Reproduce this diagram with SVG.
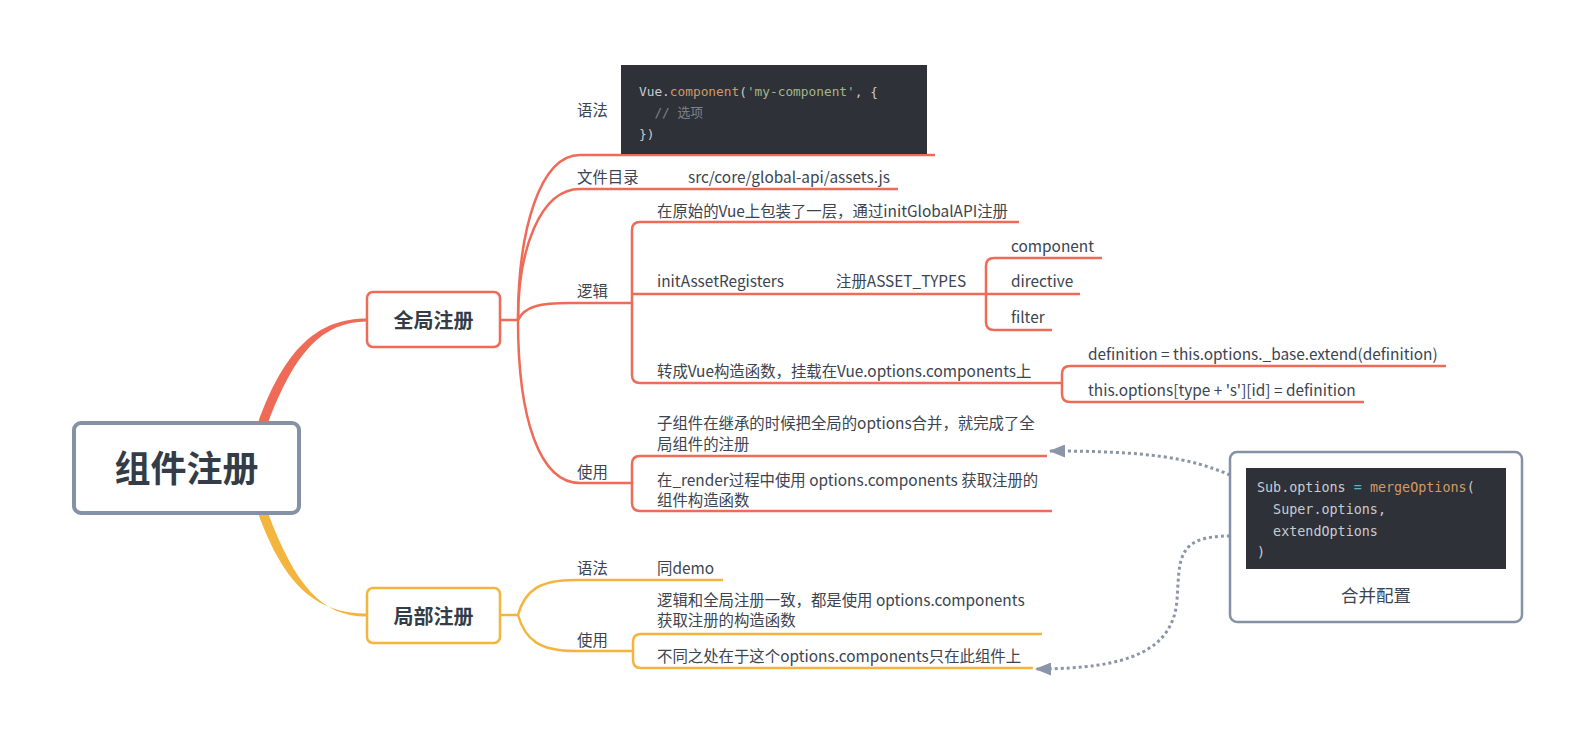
<svg xmlns="http://www.w3.org/2000/svg" width="1583" height="741" viewBox="0 0 1583 741">
<style>
.t{font-family:"Noto Sans CJK SC","Noto Sans",sans-serif;font-size:15.4px;fill:#3b4450}
.title{font-family:"Noto Sans CJK SC","Noto Sans",sans-serif;font-weight:bold;fill:#343d47;text-anchor:middle}
.code{font-family:"DejaVu Sans Mono","Noto Sans CJK SC",monospace;fill:#c8ccd2;white-space:pre}
.red{fill:none;stroke:#ef6b58;stroke-width:2.5}
.yel{fill:none;stroke:#f4b53f;stroke-width:2.5}
.dot{fill:none;stroke:#8a95a8;stroke-width:3;stroke-dasharray:3 3}
.or{fill:#d19a66}.gr{fill:#a3b78a}.cm{fill:#7f848e}.tl{fill:#56b6c2}
</style>
<defs>
<marker id="arr" viewBox="0 0 16 13" refX="15" refY="6.5" markerWidth="16" markerHeight="13" markerUnits="userSpaceOnUse" orient="auto">
<path d="M0,0 L16,6.5 L0,13 Z" fill="#8a95a8"/>
</marker>
</defs>
<rect width="1583" height="741" fill="#ffffff"/>
<g id="connectors">
<path d="M258,423 C285,348 318,318.5 367,318.5 L367,321.5 C322,322 295,352 268,423 Z" fill="#ef6b58"/>
<path d="M258,513 C285,588 318,613.5 367,613.5 L367,616.5 C322,617 295,585 268,513 Z" fill="#f4b53f"/>
<path class="red" d="M500,320 L518,320"/>
<path class="red" d="M518,320 C518,230 540,155 580,155 L935,155"/>
<path class="red" d="M518,320 C518,250 540,189 580,189 L898,189"/>
<path class="red" d="M518,320 C525,306 540,303 570,303 L632,303"/>
<path class="red" d="M518,320 C518,420 540,483 580,483 L632,483"/>
<path class="red" d="M1019,222 L640,222 Q632,222 632,230 L632,375 Q632,383 640,383 L1062,383"/>
<path class="red" d="M632,294 L986,294"/>
<path class="red" d="M1102,258 L994,258 Q986,258 986,266 L986,322 Q986,330 994,330 L1052,330"/>
<path class="red" d="M986,294 L1080,294"/>
<path class="red" d="M1446,366 L1070,366 Q1062,366 1062,374 L1062,394 Q1062,402 1070,402 L1364,402"/>
<path class="red" d="M1047,456 L640,456 Q632,456 632,464 L632,503 Q632,511 640,511 L1052,511"/>
<path class="yel" d="M500,615 L518,615"/>
<path class="yel" d="M518,615 C525,590 540,580 575,580 L723,580"/>
<path class="yel" d="M518,615 C525,640 540,651 575,651 L633,651"/>
<path class="yel" d="M1042,634 L641,634 Q633,634 633,642 L633,660 Q633,668 641,668 L1033,668"/>
<path class="dot" d="M1230,475 C1190,458 1150,451 1050,451" marker-end="url(#arr)"/>
<path class="dot" d="M1230,536 C1175,536 1180,560 1177,600 C1173,650 1130,669 1036,669" marker-end="url(#arr)"/>
</g>
<g id="root">
<rect x="74" y="423" width="225" height="90" rx="7" fill="#fff" stroke="#8592a6" stroke-width="4"/>
<text class="title" x="186.5" y="482" font-size="36">组件注册</text>
</g>
<g id="global">
<rect x="367" y="292" width="133" height="55" rx="6" fill="#fff" stroke="#ef6b58" stroke-width="2.5"/>
<text class="title" x="433.5" y="328" font-size="20">全局注册</text>
</g>
<g id="local">
<rect x="367" y="588" width="133" height="55" rx="6" fill="#fff" stroke="#f4b53f" stroke-width="2.5"/>
<text class="title" x="433.5" y="624" font-size="20">局部注册</text>
</g>
<g id="g-syntax">
<text class="t" x="577" y="116">语法</text>
<rect x="621" y="65" width="306" height="89" fill="#2e3137"/>
<text class="code" x="639" y="96" font-size="12.8" xml:space="preserve">Vue.<tspan class="or">component</tspan>(<tspan class="gr">'my-component'</tspan>, {</text>
<text class="code cm" x="639" y="117" font-size="12.8" xml:space="preserve">  // 选项</text>
<text class="code" x="639" y="138" font-size="12.8">})</text>
</g>
<g id="g-dir">
<text class="t" x="577" y="183">文件目录</text>
<text class="t" x="688" y="183">src/core/global-api/assets.js</text>
</g>
<g id="g-logic">
<text class="t" x="577" y="297">逻辑</text>
<text class="t" x="657" y="217">在原始的Vue上包装了一层，通过initGlobalAPI注册</text>
<text class="t" x="657" y="287">initAssetRegisters</text>
<text class="t" x="836" y="287">注册ASSET_TYPES</text>
<text class="t" x="1011" y="252">component</text>
<text class="t" x="1011" y="287">directive</text>
<text class="t" x="1011" y="323">filter</text>
<text class="t" x="657" y="377">转成Vue构造函数，挂载在Vue.options.components上</text>
<text class="t" x="1088" y="360">definition = this.options._base.extend(definition)</text>
<text class="t" x="1088" y="396">this.options[type + 's'][id] = definition</text>
</g>
<g id="g-use">
<text class="t" x="577" y="478">使用</text>
<text class="t" x="657" y="429">子组件在继承的时候把全局的options合并，就完成了全</text>
<text class="t" x="657" y="450">局组件的注册</text>
<text class="t" x="657" y="486">在_render过程中使用 options.components 获取注册的</text>
<text class="t" x="657" y="506">组件构造函数</text>
</g>
<g id="l-syntax">
<text class="t" x="577" y="574">语法</text>
<text class="t" x="657" y="574">同demo</text>
</g>
<g id="l-use">
<text class="t" x="577" y="646">使用</text>
<text class="t" x="657" y="606">逻辑和全局注册一致，都是使用 options.components</text>
<text class="t" x="657" y="626">获取注册的构造函数</text>
<text class="t" x="657" y="662">不同之处在于这个options.components只在此组件上</text>
</g>
<g id="merge">
<rect x="1230" y="452" width="292" height="170" rx="7" fill="#fff" stroke="#8592a6" stroke-width="2.5"/>
<rect x="1246" y="468" width="260" height="101" fill="#2e3137"/>
<text class="code" x="1257" y="492" font-size="13.4" xml:space="preserve">Sub.options <tspan class="tl">=</tspan> <tspan class="or">mergeOptions</tspan>(</text>
<text class="code" x="1257" y="514" font-size="13.4" xml:space="preserve">  Super.options,</text>
<text class="code" x="1257" y="536" font-size="13.4" xml:space="preserve">  extendOptions</text>
<text class="code" x="1257" y="557" font-size="13.4">)</text>
<text class="t" x="1376" y="602" style="font-size:17.5px" text-anchor="middle">合并配置</text>
</g>
</svg>
